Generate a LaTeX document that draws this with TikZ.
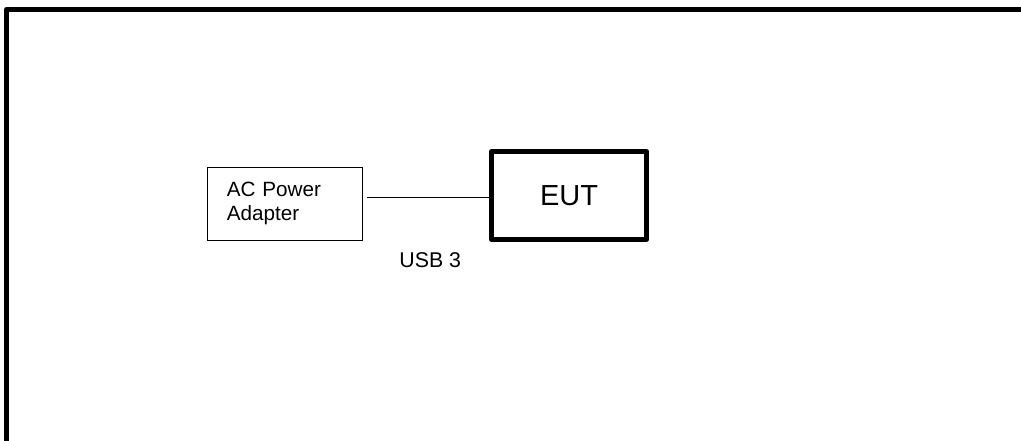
\documentclass[tikz,border=0pt]{standalone}
\usepackage{fontspec}
\setmainfont{Liberation Sans}
\usepackage{tikz}
\usetikzlibrary{positioning}

\tikzset{
	unitbox/.style={draw, line width=0.75pt, rectangle, align=left, text width=87pt, inner xsep=14.55pt, minimum height=54.75pt, font=\fontsize{15.5}{18.2}\selectfont},
	eutbox/.style={draw, line width=3.75pt, line join=round, rectangle, minimum width=116.8pt, minimum height=65.6pt, font=\fontsize{21.75}{26}\selectfont}
}

\begin{document}
\begin{tikzpicture}[x=0.75pt, y=-0.75pt]
	\clip (0, 0) rectangle (1021, 440);
	\draw[line width=3.75pt, line join=round] (6.5, 450) -- (6.5, 9.5) -- (1030, 9.5);

	\node[unitbox] (adapter) at (284.8, 203.5) {AC Power\\Adapter};
	\node[eutbox] (eut) at (569, 195.5) {EUT};
	\coordinate (usbstart) at ([xshift=3.4pt, yshift=4.35pt]adapter.east);
	\draw[line width=0.75pt] (usbstart) -- (eut.west |- usbstart);
	\node[font=\fontsize{16}{19}\selectfont] (usb) at (430.3, 260) {USB 3};
\end{tikzpicture}
\end{document}
